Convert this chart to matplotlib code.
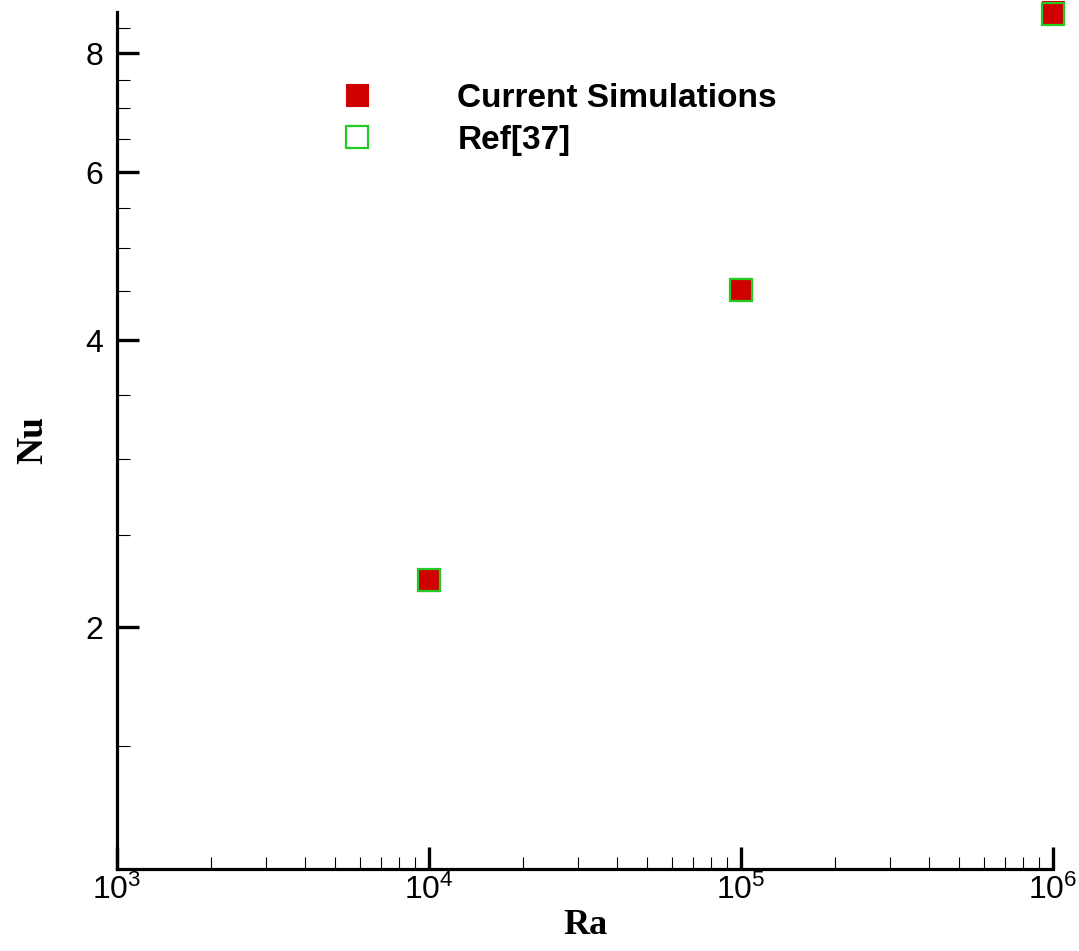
import matplotlib
matplotlib.use("Agg")
import matplotlib.pyplot as plt
from matplotlib.ticker import FixedLocator, FixedFormatter, LogLocator, NullFormatter

plt.rcParams['font.family'] = ['Liberation Sans', 'DejaVu Sans']
plt.rcParams['mathtext.fontset'] = 'custom'
plt.rcParams['mathtext.rm'] = 'Liberation Sans'
plt.rcParams['mathtext.it'] = 'Liberation Sans:italic'
plt.rcParams['mathtext.bf'] = 'Liberation Sans:bold'

# Data
ra = [1e4, 1e5, 1e6]
nu_current = [2.24, 4.53, 8.83]
nu_ref = [2.243, 4.51, 8.80]

y_major = [2, 4, 6, 8]
y_major_labels = ["2", "4", "6", "8"]
y_minor = [1.5, 2.5, 3, 3.5, 4.5, 5, 5.5, 6.5, 7, 7.5, 8.5]

W, H = 1079, 951
fig = plt.figure(figsize=(W / 100, H / 100), dpi=100)
ax = fig.add_axes([117 / W, 82 / H, (1053 - 117) / W, (869 - 12) / H])

ax.set_xscale('log')
ax.set_yscale('log')
ax.set_xlim(1e3, 1e6)
ax.set_ylim(1.115, 8.833)

ms = 16.5
ax.plot(ra, nu_current, linestyle='none', marker='s', markersize=ms,
        markerfacecolor='#d10000', markeredgecolor='#d10000', markeredgewidth=0.8,
        clip_on=False, zorder=3, label='Current Simulations')
ax.plot(ra, nu_ref, linestyle='none', marker='s', markersize=ms,
        markerfacecolor='none', markeredgecolor='#22cc22', markeredgewidth=1.6,
        clip_on=False, zorder=4, label='Ref[37]')

for s in ['top', 'right']:
    ax.spines[s].set_visible(False)
for s in ['left', 'bottom']:
    ax.spines[s].set_linewidth(2.3)
    ax.spines[s].set_color('black')

ax.yaxis.set_major_locator(FixedLocator(y_major))
ax.yaxis.set_major_formatter(FixedFormatter(y_major_labels))
ax.yaxis.set_minor_locator(FixedLocator(y_minor))
ax.yaxis.set_minor_formatter(NullFormatter())

ax.xaxis.set_major_locator(LogLocator(base=10, numticks=10))
ax.xaxis.set_minor_locator(LogLocator(base=10, subs=range(2, 10), numticks=20))
ax.xaxis.set_minor_formatter(NullFormatter())

ax.tick_params(axis='both', which='major', direction='in', length=15.5, width=2.4,
               labelsize=23, colors='black')
ax.tick_params(axis='both', which='minor', direction='in', length=9, width=0.8)
ax.tick_params(axis='y', which='major', pad=10)
ax.tick_params(axis='x', which='major', pad=4)

ax.set_xlabel('Ra', fontfamily='Liberation Serif', fontweight='bold', fontsize=26, labelpad=2)
ax.set_ylabel('Nu', fontfamily='Liberation Serif', fontweight='bold', fontsize=27, labelpad=25)

fs = 24
leg = ax.legend(loc='upper left', bbox_to_anchor=(324 / W, 1 - 83 / H),
                bbox_transform=fig.transFigure, frameon=False,
                prop={'weight': 'bold', 'size': fs}, handlelength=2.0,
                handletextpad=2.0, labelspacing=0.32, borderpad=0, borderaxespad=0,
                numpoints=1)

fig.savefig('out.png', dpi=100)
